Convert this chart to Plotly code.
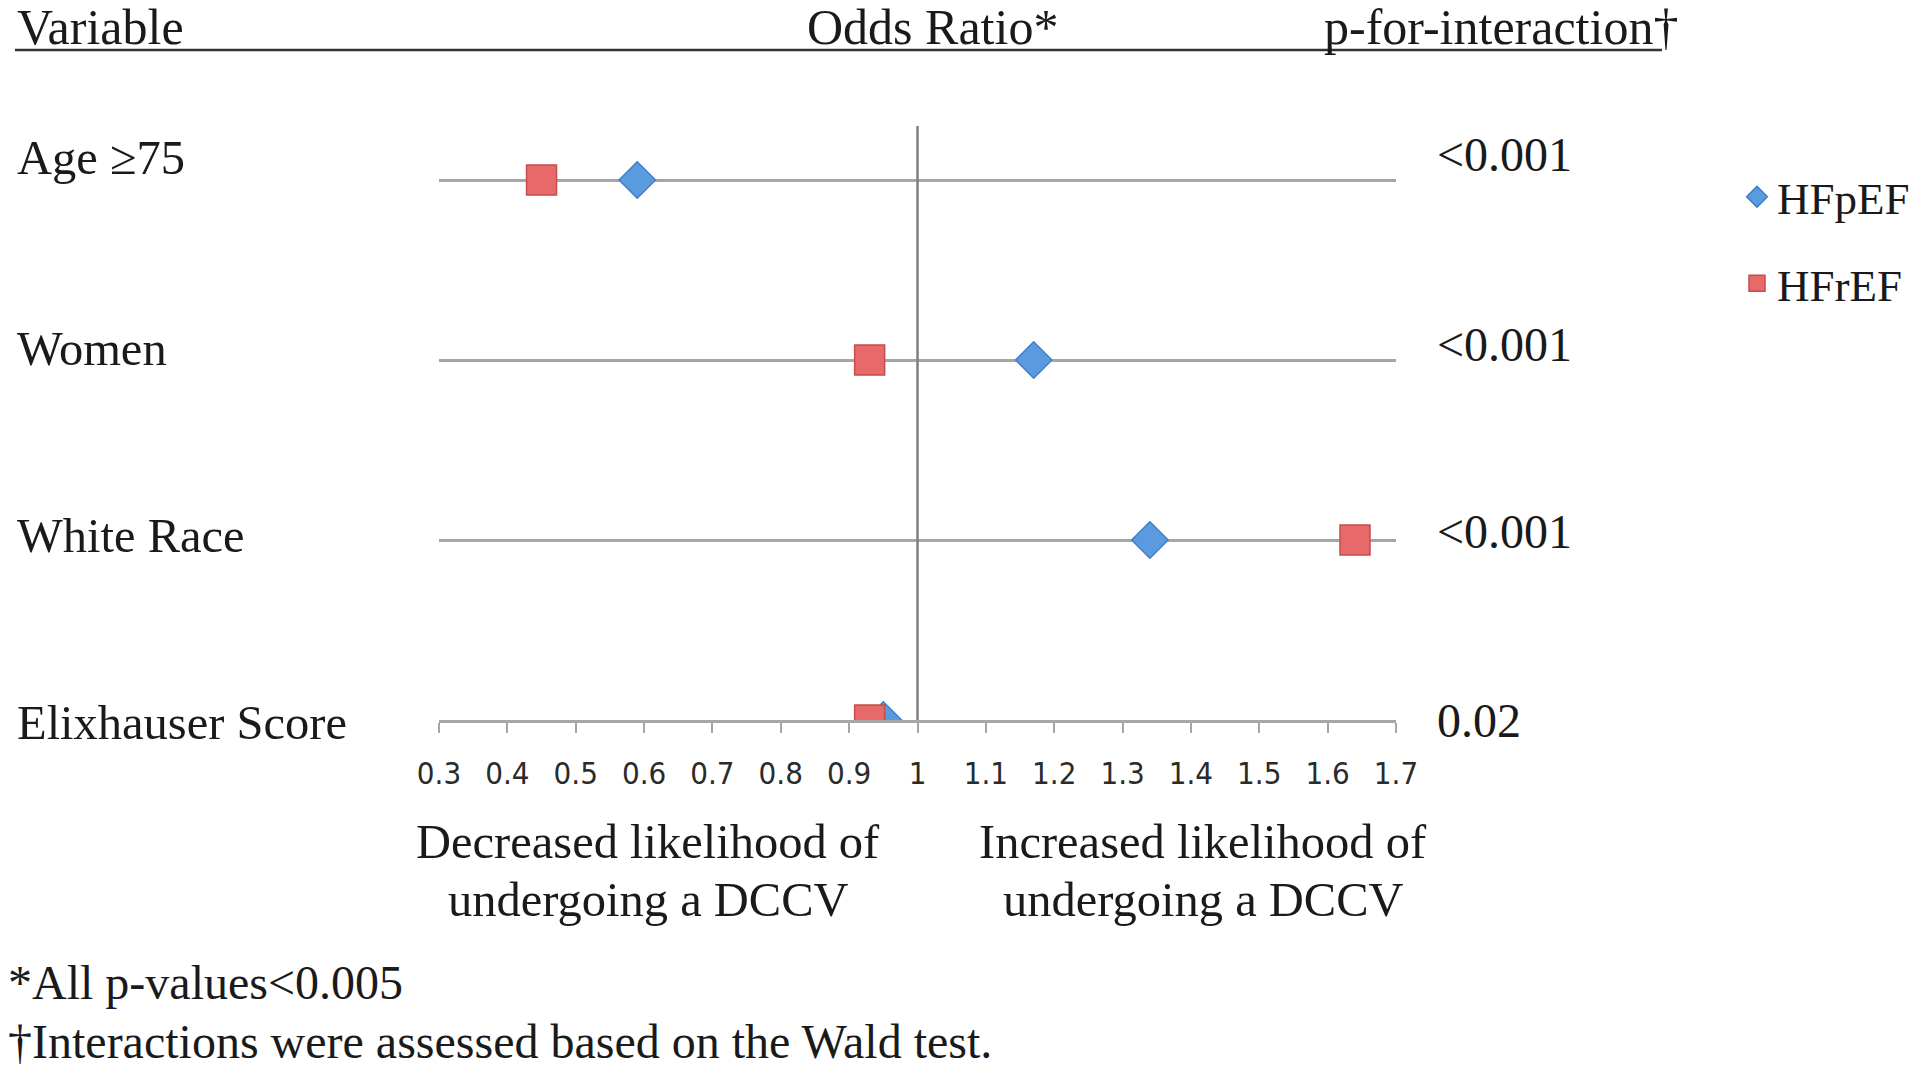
import plotly.graph_objects as go

# rows top to bottom
variables = ['Age ≥75', 'Women', 'White Race', 'Elixhauser Score']
p_interaction = ['<0.001', '<0.001', '<0.001', '0.02']
row_pos = [3, 2, 1, 0]
hfpef_or = [0.59, 1.17, 1.34, 0.95]
hfref_or = [0.45, 0.93, 1.64, 0.93]
tick_vals = [0.3, 0.4, 0.5, 0.6, 0.7, 0.8, 0.9, 1.0, 1.1, 1.2, 1.3, 1.4, 1.5, 1.6, 1.7]
tick_text = ['0.3', '0.4', '0.5', '0.6', '0.7', '0.8', '0.9', '1', '1.1', '1.2', '1.3', '1.4', '1.5', '1.6', '1.7']

# page body margin shifts the figure by 8px, so work in page pixels and subtract it
OFF = 8
W, H = 1920 - 2 * OFF, 1075 - 2 * OFF
L, R, T, B = 439 - OFF, 1396 - OFF, 126 - OFF, 720 - OFF
SERIF = 'Liberation Serif, Times New Roman, serif'
SANS = 'Liberation Sans Narrow, DejaVu Sans Condensed, Liberation Sans, Arial'

def px(x):
    return (x - OFF - L) / (R - L)

def py(y):
    return (B - (y - OFF)) / (B - T)

fig = go.Figure()
fig.add_trace(go.Scatter(x=hfpef_or, y=row_pos, mode='markers', name='HFpEF',
                         legendgroup='a',
                         marker=dict(symbol='diamond', size=28, color='#5A9BE0',
                                     line=dict(color='#3F7FC8', width=1.5))))
fig.add_trace(go.Scatter(x=hfref_or, y=row_pos, mode='markers', name='HFrEF',
                         legendgroup='b',
                         marker=dict(symbol='square', size=30, color='#E8696A',
                                     line=dict(color='#C44E4C', width=1.5))))

annotations = []
label_y = [157, 348, 535, 722]
pval_y = [154, 344, 531, 720]
for name, ly in zip(variables, label_y):
    annotations.append(dict(text=name, x=px(15), y=py(ly), xanchor='left', size=48.5))
for pv, ly in zip(p_interaction, pval_y):
    annotations.append(dict(text=pv, x=px(1435), y=py(ly), xanchor='left', size=48))

annotations += [
    dict(text='Variable', x=px(15), y=py(27), xanchor='left', size=50),
    dict(text='Odds Ratio*', x=px(932), y=py(27), xanchor='center', size=50),
    dict(text='p-for-interaction†', x=px(1322), y=py(27), xanchor='left', size=50),
    dict(text='Decreased likelihood of', x=px(648), y=py(841), xanchor='center', size=48.5),
    dict(text='undergoing a DCCV', x=px(648), y=py(899), xanchor='center', size=48.5),
    dict(text='Increased likelihood of', x=px(1203), y=py(841), xanchor='center', size=48.5),
    dict(text='undergoing a DCCV', x=px(1203), y=py(899), xanchor='center', size=48.5),
    dict(text='*All p-values<0.005', x=px(6), y=py(982), xanchor='left', size=48),
    dict(text='†Interactions were assessed based on the Wald test.', x=px(6), y=py(1041),
         xanchor='left', size=48),
]
for a in annotations:
    size = a.pop('size')
    a.update(xref='paper', yref='paper', showarrow=False, yanchor='middle',
             font=dict(family=SERIF, size=size, color='#1a1a1a'))

fig.update_layout(width=W, height=H,
                  margin=dict(l=L, r=W - R, t=T, b=H - B, pad=0, autoexpand=False),
                  paper_bgcolor='white',
                  plot_bgcolor='white',
                  annotations=annotations,
                  showlegend=True,
                  legend=dict(x=px(1737), y=py(161), xanchor='left', yanchor='top',
                              font=dict(family=SERIF, size=45, color='#1a1a1a'),
                              tracegroupgap=25, itemsizing='trace',
                              bgcolor='rgba(0,0,0,0)'),
                  shapes=[
                      dict(type='line', xref='paper', yref='paper',
                           x0=px(15), x1=px(1662), y0=py(50), y1=py(50),
                           line=dict(color='#333333', width=2.5)),
                      dict(type='line', xref='x', yref='paper', x0=1, x1=1, y0=0, y1=1,
                           line=dict(color='#7f7f7f', width=2.5)),
                  ])

fig.update_xaxes(range=[0.3, 1.7], tickvals=tick_vals, ticktext=tick_text,
                 showgrid=False, zeroline=False,
                 showline=True, linecolor='#a6a6a6', linewidth=2.5,
                 ticks='outside', ticklen=10, tickwidth=2, tickcolor='#a6a6a6',
                 ticklabelstandoff=14,
                 tickfont=dict(family=SANS, size=31, color='#2b2b2b'))
fig.update_yaxes(range=[0, 3.3], tickvals=row_pos, showticklabels=False,
                 showgrid=True, gridcolor='#a6a6a6', gridwidth=2.5,
                 zeroline=False, showline=False, ticks='')

fig.write_html("out.html")
